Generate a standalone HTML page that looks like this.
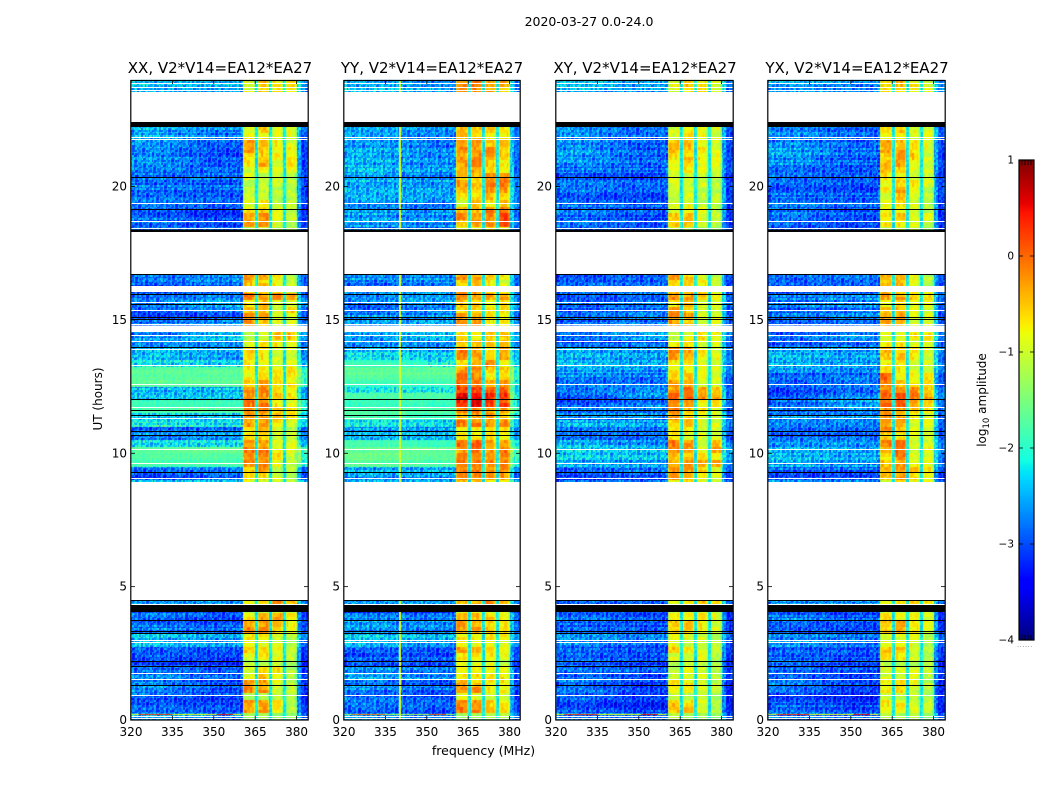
<!DOCTYPE html>
<html lang="en">
<head>
<meta charset="utf-8">
<title>2020-03-27 0.0-24.0</title>
<style>
html,body{margin:0;padding:0;background:#fff;width:1050px;height:800px;overflow:hidden}
#stage{position:relative;width:1050px;height:800px}
canvas,svg{position:absolute;left:0;top:0}
text{font-family:"DejaVu Sans","Liberation Sans",sans-serif;fill:#000}
</style>
</head>
<body>
<div id="stage">
<canvas id="cells" width="1050" height="800"></canvas>
<svg id="overlay" width="1050" height="800" viewBox="0 0 1050 800">
  <text x="589" y="26" text-anchor="middle" font-size="12.5">2020-03-27 0.0-24.0</text>
  <text x="220" y="73" text-anchor="middle" font-size="15">XX, V2*V14=EA12*EA27</text>
  <text x="432" y="73" text-anchor="middle" font-size="15">YY, V2*V14=EA12*EA27</text>
  <text x="645" y="73" text-anchor="middle" font-size="15">XY, V2*V14=EA12*EA27</text>
  <text x="857" y="73" text-anchor="middle" font-size="15">YX, V2*V14=EA12*EA27</text>
  <text x="483.5" y="755" text-anchor="middle" font-size="12.5">frequency (MHz)</text>
  <text transform="translate(102,399) rotate(-90)" text-anchor="middle" font-size="12">UT (hours)</text>
  <text transform="translate(986,400) rotate(-90)" text-anchor="middle" font-size="12">log<tspan font-size="8.5" dy="3">10</tspan><tspan dy="-3"> amplitude</tspan></text>
  <text x="1017" y="647" font-size="7" fill="#888" style="fill:#888;letter-spacing:.4px">......</text>
</svg>
</div>
<script>
/* ---------- chart data ---------- */
const panelNames = ['xx', 'yy', 'xy', 'yx'];
const xTickLabels = [320, 335, 350, 365, 380];
const yTickLabels = [0, 5, 10, 15, 20];
const colorbarTickLabels = [1, 0, -1, -2, -3, -4];

/* Flagged (blank) time ranges in hours */
const gapStartHours = [4.5, 14.55, 16.05, 16.72, 22.42];
const gapEndHours = [8.92, 14.8, 16.27, 18.3, 23.55];
/* Thick black flag bands in hours */
const blackBandStartHours = [4.05, 18.3, 22.23];
const blackBandEndHours = [4.31, 18.39, 22.42];
/* Single-integration flag lines in hours */
const whiteLineHours = [0.07,0.15,0.93,1.52,1.75,2.91,3.0,4.35,9.06,9.65,10.16,11.32,11.75,12.59,13.31,13.91,14.21,14.44,14.85,15.37,15.68,18.45,18.71,19.39,21.78,21.87,23.62,23.72,23.87];
const blackLineHours = [1.3,2.02,2.21,3.26,3.34,3.74,4.5,9.3,10.69,10.85,11.44,11.62,12.05,13.97,15.05,15.12,15.6,15.97,16.72,19.15,20.37];

/* Spectral-window edges in MHz */
const subbandStartMHz = [360.3, 366.0, 371.0, 376.0];
const subbandEndMHz = [365.0, 370.0, 375.0, 380.1];
const gapChannelLevel = -2.2;
const hotChannelYYMHz = 340.25;
const hotChannelYYLevel = -0.9;

/* RFI integration near 0.21 h */
const rfiHour = 0.21;
const rfiStartMHz = [320, 323, 335, 351, 357];
const rfiEndMHz = [323, 335, 351, 357, 360];
const rfiLevels = [-0.9, 0.3, -0.8, 0.5, -0.8];

/* Hand-written repeating texture for the fine grain, tenths of a dex.
   Not read from the reference: individual speckles are illustrative. */
const speckleTenths = [-6,3,-9,1,7,-2,-8,5,0,-4,9,-7,2,-1,6,-10,4,-3,8,-5,1,-8,10,-2,-6,3,7,-9,0,5,-4,2,-7,8,-1,-5,6,-3,-10,4,9,-6,1,-2,7,-8,3,0,-4,5,-9,2,6,-7,-1,8,-3,4,-5,10,-6];

/* Coarse levels estimated by eye. Each row spans 0.25 h starting from 0 h.
   Columns: 320-340 MHz, 340-360 MHz, subband 1, 2, 3, 4 in tenths of log10 amplitude. null = no data */
const _ = null;
const levelsXX = [
[-24,-26,-13,-13,-13,-13],[-28,-29,-3,-3,-7,-11],[-28,-29,-3,-3,-7,-11],[-28,-30,-11,-11,-11,-12],
[-26,-29,-2,-2,-9,-11],[-26,-29,-3,-3,-9,-11],[-26,-28,-9,-5,-7,-11],[-27,-28,-9,-7,-7,-11],
[-29,-30,-11,-11,-11,-12],[-28,-29,-9,-7,-9,-11],[-28,-29,-5,-5,-7,-11],[-24,-26,-9,-9,-9,-11],
[-23,-25,-7,-7,-9,-11],[-27,-28,-2,-2,-5,-7],[-27,-28,-3,-3,-5,-7],[-26,-28,-7,-3,-3,-7],
[-30,-30,-11,-11,-11,-11],[-25,-25,-9,-5,-1,-5],
_,_,_,_,_,_,_,_,_,_,_,_,_,_,_,_,_,
[-22,-22,-9,-9,-9,-11],[-30,-28,-7,-7,-9,-11],[-27,-26,-5,-3,-11,-11],[-18,-18,-2,-2,-9,-9],
[-17,-17,-1,-1,-7,-11],[-17,-16,-1,-1,-7,-9],[-22,-22,-3,-3,-9,-9],[-26,-25,-7,-5,-9,-9],
[-28,-27,-7,-5,-9,-11],[-20,-21,-3,-3,-7,-9],[-21,-21,-3,-3,-5,-5],[-18,-17,-1,-1,-5,-7],
[-19,-19,-1,-1,-7,-9],[-22,-22,-3,-2,-5,-7],[-24,-24,-2,-2,-5,-7],[-17,-17,-5,-3,-7,-7],
[-17,-17,-7,-5,-7,-7],[-17,-17,-7,-7,-7,-7],[-21,-22,-7,-7,-9,-9],[-22,-24,-7,-7,-9,-9],
[-23,-24,-5,-7,-9,-9],[-26,-26,-9,-7,-7,-7],[-26,-23,-11,-9,-5,-5],[-27,-24,-11,-9,-5,-5],
[-28,-26,-2,-5,-9,-9],[-28,-27,-3,-2,-9,-9],[-28,-26,-5,-5,-9,-5],[-27,-24,-7,-5,-9,-9],
[-27,-26,-1,-3,-2,-2],[-28,-27,-5,-5,-7,-11],[-28,-27,-5,-5,-7,-11],[-28,-27,-3,-3,-7,-11],
_,_,_,_,_,_,
[-28,-28,-11,-11,-11,-12],[-27,-29,-3,-3,-9,-11],[-27,-29,-3,-2,-9,-9],[-27,-29,-7,-5,-9,-11],
[-27,-28,-9,-7,-11,-11],[-27,-28,-11,-9,-11,-11],[-27,-28,-11,-11,-11,-11],[-27,-28,-11,-11,-9,-11],
[-28,-28,-9,-11,-11,-11],[-27,-28,-9,-7,-9,-9],[-25,-28,-7,-3,-9,-7],[-25,-28,-7,-5,-7,-7],
[-25,-28,-3,-5,-7,-7],[-25,-28,-2,-5,-7,-9],[-24,-27,-7,-7,-9,-9],[-24,-26,-9,-5,-9,-9],
[-26,-27,-9,-7,-9,-9],
_,_,_,_,
[-23,-24,-9,-5,-7,-7],[-23,-24,-9,-5,-7,-7]
];
const levelsYY = [
[-24,-26,-12,-12,-12,-12],[-27,-28,-1,-1,-3,-7],[-27,-28,-2,-2,-5,-7],[-27,-29,-9,-9,-9,-9],
[-26,-28,-2,-2,-7,-7],[-26,-28,-3,-5,-7,-7],[-25,-27,-7,-7,-7,-7],[-26,-27,-7,-7,-7,-9],
[-28,-29,-9,-9,-9,-11],[-28,-28,-7,-7,-7,-9],[-27,-28,-3,-5,-5,-7],[-23,-25,-7,-9,-9,-9],
[-23,-24,-7,-7,-7,-7],[-26,-27,-3,-3,-5,-7],[-25,-26,-3,-3,-5,-7],[-25,-26,-5,-5,-5,-7],
[-30,-30,-9,-9,-9,-9],[-25,-25,-5,-5,-2,-3],
_,_,_,_,_,_,_,_,_,_,_,_,_,_,_,_,_,
[-22,-22,-5,-5,-7,-7],[-26,-26,-1,-1,-3,-3],[-24,-24,-1,-1,-2,-2],[-17,-18,-1,-1,-2,-2],
[-16,-17,-2,-1,-2,-1],[-16,-16,-3,-1,-3,-1],[-18,-19,0,0,-3,-3],[-24,-24,-7,-7,-7,-7],
[-25,-25,-7,-7,-7,-7],[-21,-22,-1,-1,-2,-2],[-18,-19,-5,-3,-3,-5],[-17,-17,-2,-2,-2,-2],
[-19,-19,4,5,2,2],[-18,-18,7,6,3,3],[-20,-20,2,2,0,0],[-19,-19,0,0,-3,-3],
[-17,-17,-1,-2,-7,-5],[-17,-17,-3,-2,-5,-5],[-19,-20,-7,-5,-1,-7],[-21,-22,-1,-3,-7,-3],
[-22,-23,-1,-3,-7,-3],[-25,-25,-5,-5,-5,-5],[-25,-23,-7,-7,-5,-5],[-25,-24,-7,-7,-5,-5],
[-26,-25,-1,-3,-7,-7],[-26,-26,-3,-3,-7,-7],[-27,-25,-5,-5,-7,-7],[-26,-24,-5,-5,-7,-7],
[-26,-25,-2,-3,-3,-3],[-26,-25,-3,-3,-5,-7],[-27,-26,-5,-5,-7,-9],[-26,-26,-2,-3,-5,-7],
_,_,_,_,_,_,
[-27,-27,-7,-7,-7,-9],[-25,-26,-5,-3,-2,1],[-25,-26,-2,-2,-1,2],[-25,-26,-5,-5,-1,0],
[-24,-25,-9,-5,-7,-5],[-24,-25,-7,-7,-5,-5],[-24,-25,-3,-5,-3,-3],[-24,-25,-3,-5,0,-1],
[-24,-26,-5,-5,-2,-2],[-24,-26,-5,-3,-5,-7],[-24,-26,-3,-2,-5,-7],[-24,-26,-3,-2,-3,-5],
[-24,-26,-2,-3,-2,-5],[-24,-26,-2,-2,-5,-5],[-24,-26,-5,-5,-7,-7],[-25,-26,-5,-5,-5,-7],
[-28,-28,-9,-9,-9,-9],
_,_,_,_,
[-23,-25,-3,-2,-3,-5],[-23,-25,-2,-1,-3,-3]
];
const levelsXY = [
[-26,-27,-12,-12,-12,-13],[-28,-30,-5,-5,-9,-11],[-28,-30,-5,-7,-9,-11],[-28,-30,-11,-12,-11,-12],
[-27,-30,-7,-7,-9,-11],[-27,-30,-7,-7,-9,-11],[-27,-29,-11,-9,-9,-11],[-28,-29,-11,-9,-9,-11],
[-28,-30,-11,-11,-11,-12],[-28,-29,-9,-9,-9,-11],[-28,-29,-5,-7,-9,-11],[-25,-27,-9,-9,-9,-11],
[-25,-26,-9,-9,-9,-11],[-28,-29,-5,-5,-7,-9],[-28,-29,-5,-5,-7,-9],[-27,-29,-7,-7,-7,-9],
[-30,-30,-11,-11,-11,-11],[-26,-26,-9,-7,-5,-7],
_,_,_,_,_,_,_,_,_,_,_,_,_,_,_,_,_,
[-26,-26,-9,-7,-9,-11],[-30,-29,-3,-3,-7,-9],[-28,-27,-3,-3,-5,-9],[-24,-25,-3,-3,-3,-3],
[-22,-23,-5,-5,-7,-7],[-22,-23,-1,-2,-9,-3],[-23,-25,-1,-2,-9,-5],[-27,-27,-7,-9,-9,-9],
[-27,-27,-7,-7,-9,-9],[-24,-25,-5,-5,-9,-9],[-26,-26,-2,-5,-9,-9],[-27,-27,-1,-5,-7,-9],
[-28,-26,-1,-2,-7,-7],[-28,-25,0,1,-2,-3],[-27,-26,-3,0,-3,-5],[-27,-27,-3,-5,-9,-9],
[-26,-27,-5,-5,-9,-9],[-24,-25,-7,-7,-9,-9],[-24,-25,-7,-7,-9,-11],[-24,-25,-3,-3,-7,-9],
[-24,-25,-2,-3,-7,-9],[-28,-27,-7,-7,-9,-9],[-27,-24,-11,-9,-7,-7],[-27,-24,-11,-9,-7,-7],
[-28,-27,-3,-5,-9,-9],[-28,-27,-2,-3,-9,-9],[-28,-27,-3,-5,-9,-9],[-27,-26,-7,-5,-9,-9],
[-27,-26,-2,-3,-5,-7],[-28,-27,-5,-5,-7,-9],[-28,-28,-5,-5,-7,-11],[-28,-27,-3,-5,-9,-11],
_,_,_,_,_,_,
[-28,-28,-11,-11,-11,-12],[-27,-29,-5,-5,-9,-11],[-27,-29,-5,-5,-9,-9],[-27,-29,-9,-7,-9,-11],
[-27,-28,-9,-9,-11,-11],[-27,-28,-11,-9,-11,-11],[-27,-28,-11,-9,-11,-11],[-27,-28,-9,-11,-9,-11],
[-28,-29,-9,-11,-11,-11],[-27,-28,-9,-7,-9,-9],[-26,-28,-7,-5,-9,-9],[-25,-28,-7,-5,-7,-9],
[-25,-28,-5,-5,-7,-9],[-26,-28,-5,-5,-7,-9],[-25,-27,-9,-7,-9,-9],[-25,-27,-9,-7,-9,-9],
[-27,-28,-9,-7,-9,-9],
_,_,_,_,
[-24,-25,-9,-7,-7,-9],[-23,-25,-9,-5,-7,-9]
];
const levelsYX = [
[-26,-27,-12,-12,-12,-13],[-28,-30,-7,-7,-9,-11],[-28,-30,-7,-7,-9,-11],[-28,-30,-11,-11,-11,-12],
[-27,-30,-7,-7,-9,-11],[-27,-30,-7,-7,-9,-11],[-27,-29,-9,-9,-9,-11],[-28,-29,-9,-9,-9,-11],
[-28,-30,-11,-11,-11,-12],[-28,-29,-7,-7,-9,-11],[-28,-29,-5,-5,-9,-11],[-25,-27,-9,-9,-9,-11],
[-25,-26,-9,-9,-9,-11],[-28,-29,-5,-3,-7,-9],[-28,-29,-5,-3,-7,-9],[-27,-29,-7,-7,-7,-9],
[-30,-30,-11,-11,-11,-11],[-26,-26,-7,-7,-5,-7],
_,_,_,_,_,_,_,_,_,_,_,_,_,_,_,_,_,
[-26,-27,-9,-7,-9,-9],[-29,-29,-5,-3,-7,-7],[-28,-28,-3,-2,-5,-7],[-24,-25,-5,-3,-7,-9],
[-24,-25,-7,-1,-9,-9],[-24,-25,-5,0,-9,-7],[-25,-25,-1,-1,-9,-9],[-27,-27,-5,-7,-9,-9],
[-27,-27,-2,-5,-9,-9],[-26,-26,-2,-3,-9,-9],[-26,-26,-3,-3,-7,-9],[-27,-26,-3,-3,-5,-7],
[-28,-25,0,0,-2,-5],[-28,-25,1,1,-1,-3],[-28,-26,-1,-1,-2,-5],[-28,-27,-1,-5,-7,-7],
[-28,-27,0,-7,-7,-7],[-24,-25,-7,-7,-9,-9],[-24,-25,-7,-7,-9,-9],[-24,-25,-5,-5,-7,-9],
[-24,-25,-3,-5,-7,-9],[-28,-27,-7,-7,-9,-9],[-27,-25,-9,-9,-7,-7],[-27,-25,-9,-9,-7,-7],
[-28,-27,-3,-5,-9,-9],[-28,-27,-3,-3,-9,-9],[-28,-27,-5,-5,-9,-9],[-27,-26,-7,-5,-9,-9],
[-27,-26,-3,-3,-5,-7],[-28,-27,-5,-5,-7,-9],[-28,-28,-5,-5,-7,-11],[-28,-27,-3,-5,-9,-11],
_,_,_,_,_,_,
[-28,-28,-11,-11,-11,-12],[-27,-29,-7,-7,-9,-11],[-27,-29,-7,-5,-9,-9],[-27,-29,-9,-7,-9,-11],
[-27,-28,-9,-7,-9,-11],[-27,-28,-9,-5,-9,-11],[-27,-28,-7,-3,-9,-11],[-27,-28,-7,-5,-7,-9],
[-28,-29,-7,-7,-9,-11],[-27,-28,-5,-5,-9,-9],[-26,-28,-5,-3,-7,-9],[-25,-28,-5,-3,-5,-9],
[-25,-28,-3,-3,-7,-9],[-26,-28,-3,-5,-7,-9],[-25,-27,-7,-7,-9,-9],[-25,-27,-7,-5,-9,-9],
[-27,-28,-9,-7,-9,-9],
_,_,_,_,
[-24,-25,-7,-5,-7,-9],[-23,-25,-7,-5,-7,-9]
];
const panelLevels = [levelsXX, levelsYY, levelsXY, levelsYX];

/* ---------- axis functions ---------- */
function panelLeft(i) { return [131, 344, 556, 768][i]; }
function panelRight(i) { return [308, 520, 733, 945][i]; }
function yOfHour(h) { return 720 - h * 26.67; }
function xOfMHz(i, f) { return panelLeft(i) + (f - 320) * 2.76; }
function yOfColor(v) { return 160 + (1 - v) * 96; }
const AXIS_TOP = 80;
const AXIS_BOTTOM = 720;

/* jet colour map over log10 amplitude -4..1 */
function seg(t, pts) {
  for (let k = 1; k < pts.length; k++) {
    if (t <= pts[k][0]) {
      const a = pts[k - 1], b = pts[k];
      return a[1] + (b[1] - a[1]) * (t - a[0]) / (b[0] - a[0]);
    }
  }
  return pts[pts.length - 1][1];
}
function jet(v) {
  const t = Math.max(0, Math.min(1, (v + 4) / 5));
  const r = seg(t, [[0,0],[.35,0],[.66,1],[.89,1],[1,.5]]);
  const g = seg(t, [[0,0],[.125,0],[.375,1],[.64,1],[.91,0],[1,0]]);
  const b = seg(t, [[0,.5],[.11,1],[.34,1],[.65,0],[1,0]]);
  return 'rgb(' + Math.round(r * 255) + ',' + Math.round(g * 255) + ',' + Math.round(b * 255) + ')';
}

function speck(i) { return speckleTenths[i % speckleTenths.length] / 10; }

/* value of one fine cell, from the level tables */
function cellValue(p, row, rowFine, chan) {
  const levels = panelLevels[p][row];
  if (!levels) return null;
  const f = 320 + chan * 0.5 + 0.25;
  const noise = speck(chan * 17 + rowFine * 29 + p * 11);
  if (f < subbandStartMHz[0]) {
    if (p === 1 && Math.abs(f - hotChannelYYMHz) < 0.1) return hotChannelYYLevel;
    const w = Math.max(0, Math.min(1, (f - 330) / 20));
    const base = (levels[0] * (1 - w) + levels[1] * w) / 10;
    const quiet = base <= -2.0;
    const stripe = speck(rowFine * 23 + p * 7) * (quiet ? 0.2 : 0.08);
    return base + (quiet ? -0.1 : 0) + stripe + noise * (quiet ? 0.5 : 0.16);
  }
  if (f >= subbandEndMHz[3]) {
    const base = levels[1] / 10 + (f < subbandEndMHz[3] + 1.5 ? 0.25 : -0.25);
    return base + noise * 0.4;
  }
  for (let s = 0; s < 4; s++) {
    if (f >= subbandStartMHz[s] && f < subbandEndMHz[s]) {
      const edge = Math.min(f - subbandStartMHz[s], subbandEndMHz[s] - f);
      const taper = edge < 0.7 ? -0.25 : 0;
      const mottle = speck((chan >> 1) * 13 + (rowFine >> 1) * 19 + p * 5);
      return levels[2 + s] / 10 + taper + mottle * 0.22 + noise * 0.08;
    }
  }
  return gapChannelLevel + noise * 0.2;
}

/* ---------- draw heatmap ---------- */
const ctx = document.getElementById('cells').getContext('2d');
ctx.fillStyle = '#fff';
ctx.fillRect(0, 0, 1050, 800);
panelNames.forEach(function (name, p) {
  for (let rf = 0; rf < 384; rf++) {
    const h0 = rf / 16, h1 = (rf + 1) / 16;
    const y0 = Math.round(yOfHour(h1)), y1 = Math.round(yOfHour(h0));
    const row = Math.floor(rf / 4);
    for (let c = 0; c < 130; c++) {
      const x0 = Math.round(xOfMHz(p, 320 + c * 0.5));
      const x1 = Math.min(panelRight(p), Math.round(xOfMHz(p, 320 + (c + 1) * 0.5)));
      if (x1 <= x0) continue;
      const v = cellValue(p, row, rf, c);
      if (v === null) continue;
      ctx.fillStyle = jet(v);
      ctx.fillRect(x0, y0, x1 - x0, y1 - y0);
    }
  }
  /* RFI integration */
  rfiLevels.forEach(function (lv, k) {
    const x0 = xOfMHz(p, rfiStartMHz[k]), x1 = xOfMHz(p, rfiEndMHz[k]);
    ctx.fillStyle = jet(p === 1 ? lv - 0.4 : lv);
    ctx.fillRect(x0, Math.round(yOfHour(rfiHour)), x1 - x0, 1);
  });
});

/* colour bar */
for (let y = 160; y < 640; y++) {
  ctx.fillStyle = jet(1 - (y - 160 + 0.5) / 96);
  ctx.fillRect(1019, y, 15, 1);
}

/* ---------- svg overlay ---------- */
const SVG_NS = 'http://www.w3.org/2000/svg';
const overlay = document.getElementById('overlay');
function make(tag, attrs) {
  const el = document.createElementNS(SVG_NS, tag);
  for (const k in attrs) el.setAttribute(k, attrs[k]);
  overlay.appendChild(el);
  return el;
}

panelNames.forEach(function (name, p) {
  const L = panelLeft(p), R = panelRight(p), W = R - L;

  gapStartHours.forEach(function (h0, k) {
    const y1 = yOfHour(h0), y0 = yOfHour(gapEndHours[k]);
    const el = make('rect', { x: L, y: y0, width: W, height: y1 - y0, fill: '#fff', 'shape-rendering': 'crispEdges' });
    
    
  });
  blackBandStartHours.forEach(function (h0, k) {
    const y1 = yOfHour(h0), y0 = yOfHour(blackBandEndHours[k]);
    const el = make('rect', { x: L, y: y0, width: W, height: y1 - y0, fill: '#000', 'shape-rendering': 'crispEdges' });
    
    
  });
  whiteLineHours.forEach(function (h) {
    const el = make('rect', { x: L, y: Math.round(yOfHour(h)), width: W, height: 1, fill: '#fff', 'shape-rendering': 'crispEdges' });
    
    
  });
  blackLineHours.forEach(function (h) {
    const el = make('rect', { x: L, y: Math.round(yOfHour(h)), width: W, height: 1, fill: '#000', 'shape-rendering': 'crispEdges' });
    
    
  });

  /* frame */
  const frame = make('rect', { x: L - 0.2, y: AXIS_TOP + 0.5, width: W + 0.4, height: AXIS_BOTTOM - AXIS_TOP - 0.5, fill: 'none', stroke: '#000', 'stroke-width': 1.2 });
  
  

  /* y ticks */
  yTickLabels.forEach(function (v) {
    const y = yOfHour(v);
    const t1 = make('line', { x1: L, x2: L + 4, y1: y, y2: y, stroke: '#000', 'stroke-width': 0.8 });
    
    
    const t2 = make('line', { x1: R - 4, x2: R, y1: y, y2: y, stroke: '#000', 'stroke-width': 0.8 });
    
    
    const lab = make('text', { x: L - 4, y: y + 4, 'text-anchor': 'end', 'font-size': 12 });
    lab.textContent = String(v);
    
    
  });

  /* x ticks */
  xTickLabels.forEach(function (v) {
    const x = xOfMHz(p, v);
    const t1 = make('line', { x1: x, x2: x, y1: AXIS_BOTTOM, y2: AXIS_BOTTOM - 4, stroke: '#000', 'stroke-width': 0.8 });
    
    
    const t2 = make('line', { x1: x, x2: x, y1: AXIS_TOP, y2: AXIS_TOP + 4, stroke: '#000', 'stroke-width': 0.8 });
    
    
    const lab = make('text', { x: x, y: 736, 'text-anchor': 'middle', 'font-size': 12 });
    lab.textContent = String(v);
    
    
  });
});

/* colour-bar frame, ticks, labels */
const cbFrame = make('rect', { x: 1019, y: 160, width: 15, height: 480, fill: 'none', stroke: '#000', 'stroke-width': 1.2 });


colorbarTickLabels.forEach(function (v) {
  const y = yOfColor(v);
  const a = make('line', { x1: 1019, x2: 1023, y1: y, y2: y, stroke: '#000', 'stroke-width': 0.8 });
  
  
  const b = make('line', { x1: 1030, x2: 1034, y1: y, y2: y, stroke: '#000', 'stroke-width': 0.8 });
  
  
  const lab = make('text', { x: 1014, y: y + 3.5, 'text-anchor': 'end', 'font-size': 10.5 });
  lab.textContent = String(v).replace('-', '\u2212');
  
  
});
[0, 1, 2, 3, 4, 5].forEach(function (k) {
  const x = 1019 + k * 3;
  const top = make('line', { x1: x, x2: x, y1: 160, y2: 165, stroke: '#000', 'stroke-width': 0.8 });
  
  
  const bot = make('line', { x1: x, x2: x, y1: 635, y2: 640, stroke: '#000', 'stroke-width': 0.8 });
  
  
});
</script>
</body>
</html>
